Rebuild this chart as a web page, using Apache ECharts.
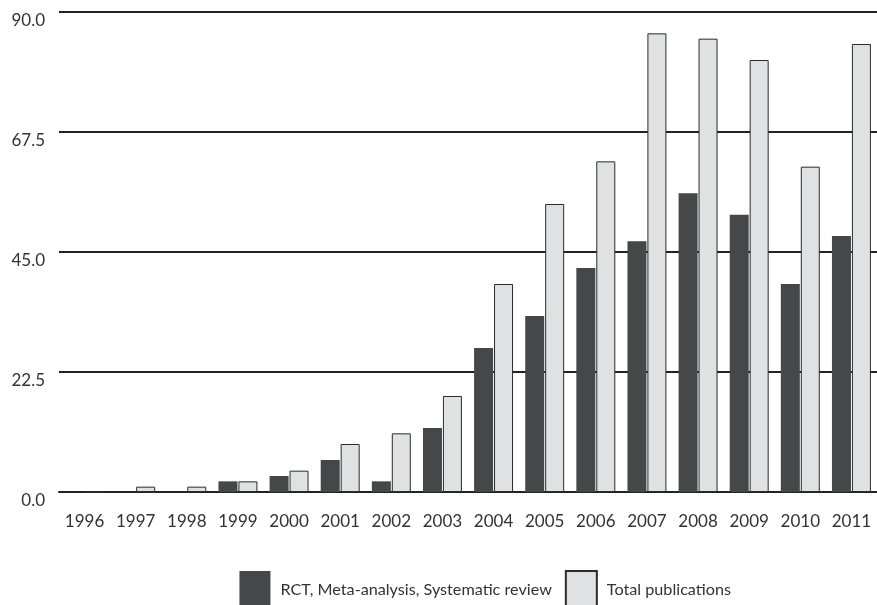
<!DOCTYPE html>
<html>
<head>
<meta charset="utf-8">
<script src="https://cdn.jsdelivr.net/npm/echarts@6/dist/echarts.min.js"></script>
<style>
  html, body { margin: 0; padding: 0; background: #fff; }
  #main { width: 877px; height: 605px; }
</style>
</head>
<body>
<div id="main"></div>
<script>
// 数据
var years = ['1996','1997','1998','1999','2000','2001','2002','2003','2004','2005','2006','2007','2008','2009','2010','2011'];
var rctValues = [0, 0, 0, 2, 3, 6, 2, 12, 27, 33, 42, 47, 56, 52, 39, 48];
var totalValues = [0, 1, 1, 2, 4, 9, 11, 18, 39, 54, 62, 86, 85, 81, 61, 84];
var yTicks = [0, 22.5, 45, 67.5, 90];

var myChart = echarts.init(document.getElementById('main'));
var option = {
    animation: false,
    backgroundColor: '#ffffff',
    textStyle: { fontFamily: 'Lato' },
    grid: { left: 59, right: 0, top: 12, bottom: 113 },
    legend: {
        right: 141,
        top: 565,
        itemWidth: 31,
        itemHeight: 37,
        itemGap: 13,
        icon: 'rect',
        textStyle: { fontSize: 16.2, color: '#333', fontFamily: 'Lato', padding: [0, 0, 0, 5] },
        data: ['RCT, Meta-analysis, Systematic review', 'Total publications']
    },
    xAxis: {
        type: 'category',
        data: years,
        axisLine: { show: true, lineStyle: { color: '#222', width: 2 } },
        axisTick: { show: false },
        axisLabel: { fontSize: 17, color: '#333', margin: 21, interval: 0 }
    },
    yAxis: {
        type: 'value',
        min: yTicks[0],
        max: yTicks[yTicks.length - 1],
        interval: 22.5,
        axisLine: { show: false },
        axisTick: { show: false },
        splitLine: { show: true, lineStyle: { color: '#222', width: 2 } },
        axisLabel: {
            fontSize: 17,
            color: '#333',
            margin: 14,
            verticalAlign: 'top',
            formatter: function (v) { return v.toFixed(1); }
        }
    },
    series: [
        {
            name: 'RCT, Meta-analysis, Systematic review',
            type: 'bar',
            data: rctValues,
            barWidth: 19,
            barGap: '5%',
            itemStyle: { color: '#464749' }
        },
        {
            name: 'Total publications',
            type: 'bar',
            data: totalValues,
            barWidth: 19,
            itemStyle: { color: '#e0e1e3', borderColor: '#2b2b2b', borderWidth: 1 }
        }
    ]
};
myChart.setOption(option);
</script>
</body>
</html>
